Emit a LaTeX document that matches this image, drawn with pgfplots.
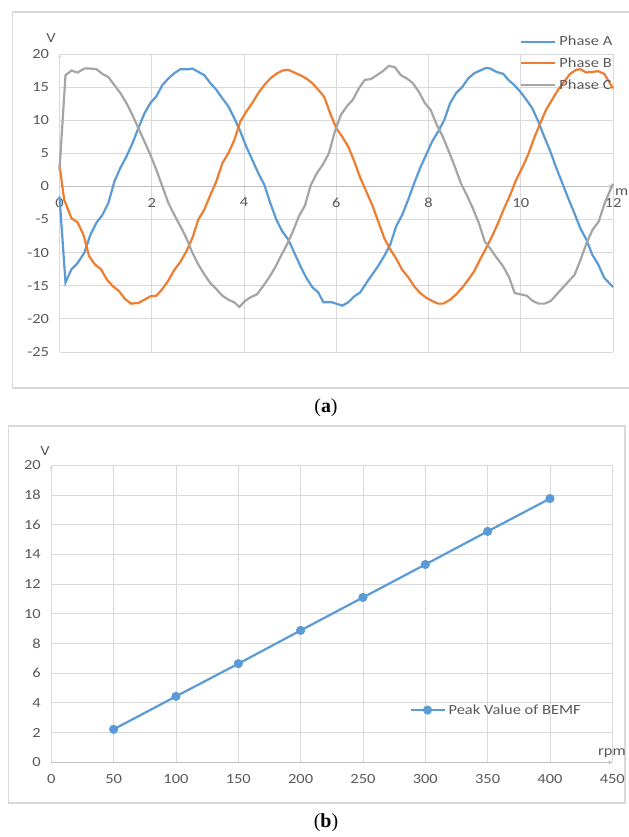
\documentclass[border=0pt]{standalone}
\usepackage{fontspec}
\setmainfont{Carlito}[FakeStretch=1.18]
\newfontfamily\capfont{Liberation Serif}
\usepackage{pgfplots}
\pgfplotsset{compat=1.18}
\definecolor{cA}{HTML}{5B9BD5}
\definecolor{cB}{HTML}{ED7D31}
\definecolor{cC}{HTML}{A5A5A5}
\definecolor{txt}{HTML}{595959}
\definecolor{grd}{HTML}{D9D9D9}
\definecolor{axl}{HTML}{BFBFBF}
\newcommand\tf{\fontsize{14}{16}\selectfont}
\pgfplotsset{
  excel/.style={
    scale only axis,
    grid=major,
    grid style={grd, line width=0.8bp},
    major tick length=0pt,
    tick style={draw=none},
    ticklabel style={font=\tf, text=txt},
    /pgf/number format/assume math mode=true,
    axis line style={-, draw=axl, line width=0.8bp},
    hide obscured x ticks=false,
    hide obscured y ticks=false,
    clip=false,
  }
}
\pgfplotstableread{
x y
0 -1.5
0.13 -14.5
0.26 -12.5
0.39 -11.6
0.54 -10
0.67 -7.3
0.8 -5.5
0.93 -4.3
1.06 -2.5
1.19 0.75
1.32 2.8
1.45 4.5
1.58 6.5
1.71 8.8
1.84 11
1.97 12.6
2.1 13.6
2.23 15.3
2.36 16.3
2.49 17.1
2.62 17.7
2.79 17.7
2.88 17.8
3.01 17.3
3.14 16.8
3.27 15.6
3.4 14.6
3.53 13.3
3.66 12.1
3.79 10.3
3.92 8.3
4.05 6
4.18 4
4.31 2
4.44 0.25
4.57 -2.5
4.7 -5
4.83 -6.8
4.96 -8
5.09 -10
5.22 -12
5.35 -13.8
5.48 -15.2
5.61 -16
5.72 -17.5
5.91 -17.5
6.13 -18
6.26 -17.5
6.39 -16.6
6.52 -16
6.65 -14.6
6.78 -13.3
6.91 -12
7.04 -10.5
7.17 -8.8
7.3 -6
7.43 -4.3
7.56 -2
7.69 0.5
7.82 2.8
7.95 4.8
8.08 6.8
8.21 8.3
8.34 10
8.47 12.6
8.6 14.1
8.73 15
8.86 16.3
8.99 17.1
9.12 17.5
9.25 17.9
9.34 17.8
9.47 17.3
9.62 17
9.73 16.1
9.86 15.3
9.99 14.3
10.12 13.1
10.25 11.8
10.38 9.8
10.51 7.5
10.64 5.3
10.77 2.8
10.9 0.5
11.03 -1.8
11.16 -4
11.29 -6.3
11.42 -8
11.55 -10.3
11.68 -11.8
11.81 -13.8
12 -15.2
}\phaseA
\pgfplotstableread{
x y
0 3.3
0.1 -2
0.26 -4.8
0.39 -5.4
0.52 -7.3
0.64 -10.5
0.77 -11.8
0.9 -12.5
1.03 -14.1
1.16 -15.1
1.29 -15.8
1.42 -17
1.55 -17.7
1.71 -17.6
1.84 -17.1
1.97 -16.6
2.1 -16.5
2.23 -15.5
2.36 -14.2
2.49 -12.6
2.62 -11.4
2.75 -9.8
2.88 -7.8
3.01 -5
3.14 -3.5
3.27 -1.3
3.4 0.75
3.53 3.5
3.66 5
3.79 7
3.92 9.8
4.05 11.3
4.18 12.6
4.31 14.1
4.44 15.3
4.57 16.3
4.7 17
4.83 17.5
4.96 17.6
5.09 17.2
5.22 16.8
5.35 16.3
5.48 15.6
5.61 14.6
5.74 13.5
5.87 11
6.0 8.8
6.13 7.5
6.26 6
6.39 3.8
6.52 1.3
6.65 -0.75
6.78 -2.8
6.91 -5.3
7.04 -7.8
7.17 -9.5
7.3 -10.9
7.43 -12.6
7.56 -13.7
7.69 -15.1
7.82 -16.1
7.95 -16.8
8.08 -17.3
8.21 -17.7
8.32 -17.7
8.47 -17.1
8.6 -16.3
8.73 -15.3
8.86 -14.1
8.99 -12.8
9.12 -11
9.25 -9.3
9.38 -7.5
9.51 -5.5
9.64 -3.3
9.77 -1.3
9.9 1
10.03 2.8
10.16 4.8
10.29 7.3
10.42 9.5
10.55 11.6
10.68 13.1
10.81 14.6
10.94 15.8
11.07 17
11.2 17.6
11.29 17.7
11.42 17.2
11.55 17.3
11.68 17.4
11.81 17
12 14.8
}\phaseB
\pgfplotstableread{
x y
0 2.5
0.13 16.8
0.26 17.5
0.39 17.2
0.54 17.8
0.67 17.8
0.8 17.7
0.93 17
1.06 16.5
1.19 15.3
1.32 14.1
1.45 12.6
1.58 10.8
1.71 8.8
1.84 6.8
1.97 4.8
2.1 2.5
2.23 0
2.36 -2.5
2.49 -4.3
2.62 -6
2.75 -7.8
2.88 -10
3.01 -11.8
3.14 -13.3
3.27 -14.6
3.4 -15.5
3.53 -16.5
3.66 -17.1
3.79 -17.5
3.9 -18.2
4.02 -17.3
4.15 -16.7
4.28 -16.3
4.41 -15.1
4.54 -13.8
4.67 -12.3
4.8 -10.5
4.93 -8.8
5.06 -6.8
5.19 -4.5
5.32 -2.9
5.45 0.25
5.58 2
5.71 3.3
5.84 5
5.97 8.3
6.1 10.8
6.23 12.1
6.36 13.1
6.49 14.8
6.62 16.1
6.75 16.2
6.88 16.8
7.01 17.4
7.14 18.2
7.27 18
7.4 16.8
7.53 16.3
7.66 15.6
7.79 14.3
7.92 12.6
8.05 11.5
8.18 9.3
8.31 7.5
8.44 5.3
8.57 3
8.7 0.5
8.83 -1.3
8.96 -3.3
9.09 -5.5
9.22 -8.3
9.35 -9.5
9.48 -10.8
9.61 -12
9.74 -13.6
9.87 -16.1
10.0 -16.3
10.13 -16.5
10.26 -17.3
10.39 -17.7
10.52 -17.7
10.65 -17.3
10.78 -16.3
10.91 -15.3
11.04 -14.3
11.17 -13.3
11.3 -11
11.43 -8.5
11.56 -6.5
11.69 -5.3
11.82 -2.5
12 0.4
}\phaseC
\begin{document}
\begin{tikzpicture}[x=1bp,y=1bp]
\path[use as bounding box] (0,0) rectangle (629,837);
\clip (0,0) rectangle (629,837);
% frames
\draw[grd, line width=1.5bp] (12.5,449) rectangle (640,825);
\draw[grd, line width=1.5bp] (8.5,34) rectangle (625,411);
% top chart
\begin{axis}[excel,
  at={(59.5bp,485bp)}, anchor=south west,
  width=553.5bp, height=298bp,
  xmin=0, xmax=12, ymin=-25, ymax=20,
  xtick={0,2,...,12}, ytick={-25,-20,...,20},
  axis x line=middle, axis y line=left,
  x axis line style={draw=axl},
  y axis line style={draw=grd},
  xticklabel style={yshift=-8bp},
  yticklabel style={xshift=-7bp},
  legend style={at={(0.832,1.071)}, anchor=north west, draw=none, fill=none,
    inner sep=0pt, font=\tf, text=txt,
    nodes={inner sep=3bp}, row sep=4.5bp},
  legend cell align=left,
  legend image code/.code={\draw[#1] (0bp,0bp) -- (34bp,0bp);},
]
\addplot[cA, line width=2.2bp] table[x=x,y=y] {\phaseA};
\addlegendentry{Phase A}
\addplot[cB, line width=2.2bp] table[x=x,y=y] {\phaseB};
\addlegendentry{Phase B}
\addplot[cC, line width=2.2bp] table[x=x,y=y] {\phaseC};
\addlegendentry{Phase C}
\end{axis}
\node[text=txt, font=\tf] at (51,799) {V};
\node[text=txt, font=\tf, anchor=west, inner sep=0pt] at (615,645) {m};
\node[font=\capfont\fontsize{20}{24}\selectfont] at (326,429) {(\textbf{a})};
% bottom chart
\begin{axis}[excel,
  at={(51.3bp,74.7bp)}, anchor=south west,
  width=561bp, height=297bp,
  xmin=0, xmax=450, ymin=0, ymax=20,
  xtick={0,50,...,450}, ytick={0,2,...,20},
  axis x line=bottom, axis y line=left,
  x axis line style={draw=axl},
  y axis line style={draw=grd},
  xticklabel style={yshift=-9bp},
  yticklabel style={xshift=-7bp},
  legend style={at={(0.638,0.176)}, anchor=west, draw=none, fill=none,
    inner sep=0pt, font=\tf, text=txt,
    nodes={inner sep=3bp}},
  legend cell align=left,
  legend image code/.code={\draw[#1, mark repeat=2, mark phase=2] plot coordinates {(0bp,0bp) (17bp,0bp) (34bp,0bp)};},
]
\addplot[cA, line width=2.2bp, mark=*, mark size=4.3bp, mark options={fill=cA, draw=cA, line width=0.5bp}] coordinates {
(50,2.22) (100,4.44) (150,6.64) (200,8.88) (250,11.1) (300,13.32) (350,15.55) (400,17.76)};
\addlegendentry{Peak Value of BEMF}
\end{axis}
\node[text=txt, font=\tf] at (45,386) {V};
\node[text=txt, font=\tf] at (612,84) {rpm};
\node[font=\capfont\fontsize{20}{24}\selectfont] at (326,14) {(\textbf{b})};
\end{tikzpicture}
\end{document}
